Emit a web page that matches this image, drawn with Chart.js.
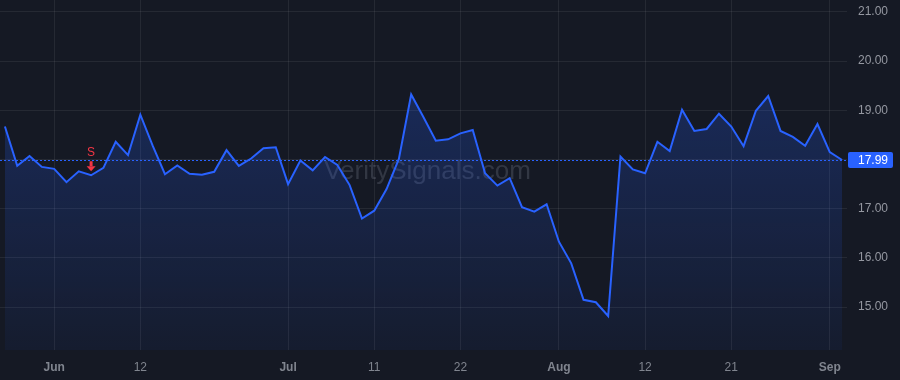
<!DOCTYPE html>
<html>
<head>
<meta charset="utf-8">
<script src="https://cdn.jsdelivr.net/npm/chart.js@4/dist/chart.umd.min.js"></script>
<style>
  html, body { margin: 0; padding: 0; background: #151924; }
  canvas { display: block; }
</style>
</head>
<body>
<canvas id="chart" width="900" height="380"></canvas>
<script>
// trading days, 2024-05-28 .. 2024-09-04
const dates = [
  "2024-05-28", "2024-05-29", "2024-05-30", "2024-05-31",
  "2024-06-03", "2024-06-04", "2024-06-05", "2024-06-06", "2024-06-07",
  "2024-06-10", "2024-06-11", "2024-06-12", "2024-06-13", "2024-06-14",
  "2024-06-17", "2024-06-18", "2024-06-20", "2024-06-21",
  "2024-06-24", "2024-06-25", "2024-06-26", "2024-06-27", "2024-06-28",
  "2024-07-01", "2024-07-02", "2024-07-03", "2024-07-05",
  "2024-07-08", "2024-07-09", "2024-07-10", "2024-07-11", "2024-07-12",
  "2024-07-15", "2024-07-16", "2024-07-17", "2024-07-18", "2024-07-19",
  "2024-07-22", "2024-07-23", "2024-07-24", "2024-07-25", "2024-07-26",
  "2024-07-29", "2024-07-30", "2024-07-31", "2024-08-01", "2024-08-02",
  "2024-08-05", "2024-08-06", "2024-08-07", "2024-08-08", "2024-08-09",
  "2024-08-12", "2024-08-13", "2024-08-14", "2024-08-15", "2024-08-16",
  "2024-08-19", "2024-08-20", "2024-08-21", "2024-08-22", "2024-08-23",
  "2024-08-26", "2024-08-27", "2024-08-28", "2024-08-29", "2024-08-30",
  "2024-09-03", "2024-09-04",
];

const closes = [
  18.67, 17.87, 18.07, 17.85,
  17.81, 17.54, 17.76, 17.68, 17.83,
  18.36, 18.09, 18.91, 18.28, 17.70,
  17.88, 17.71, 17.69, 17.75,
  18.19, 17.87, 18.02, 18.23, 18.25,
  17.50, 17.98, 17.78, 18.05,
  17.89, 17.48, 16.80, 16.96, 17.40,
  18.01, 19.32, 18.86, 18.38, 18.41,
  18.53, 18.60, 17.72, 17.47, 17.62,
  17.03, 16.94, 17.09, 16.33, 15.89,
  15.15, 15.10, 14.82, 18.06, 17.80,
  17.72, 18.36, 18.17, 19.01, 18.58,
  18.62, 18.93, 18.67, 18.27, 18.99,
  19.29, 18.58, 18.46, 18.28, 18.72,
  18.15, 17.99,
];

const tickDates = ["2024-06-03", "2024-06-12", "2024-07-01", "2024-07-11", "2024-07-22",
                   "2024-08-01", "2024-08-12", "2024-08-21", "2024-09-03"];
const tickText = ["Jun", "12", "Jul", "11", "22", "Aug", "12", "21", "Sep"];
const monthTicks = ["Jun", "Jul", "Aug", "Sep"];

const priceTicks = [15, 16, 17, 18, 19, 20, 21];
const lastPrice = 17.99;

const signalDates = ["2024-06-06"];
const signalText = ["S"];

const tickIdx = tickDates.map((d) => dates.indexOf(d));
const points = closes.map((v, i) => ({ x: i, y: v }));

const FONT = "'Liberation Sans', Arial, sans-serif";
const BLUE = "#2962ff";

const overlay = {
  id: "overlay",
  beforeDatasetsDraw(chart) {
    const { ctx, chartArea: a, scales } = chart;
    ctx.save();
    // watermark
    ctx.font = "26px " + FONT;
    ctx.fillStyle = "rgba(170, 176, 195, 0.2)";
    ctx.textAlign = "center";
    ctx.textBaseline = "middle";
    ctx.fillText("VeritySignals.com", (a.left + a.right) / 2 + 4, 172);

    // last price dotted line
    const py = Math.round(scales.y.getPixelForValue(lastPrice)) + 0.5;
    ctx.strokeStyle = BLUE;
    ctx.lineWidth = 1;
    ctx.setLineDash([2, 2]);
    ctx.beginPath();
    ctx.moveTo(a.left, py);
    ctx.lineTo(a.right, py);
    ctx.stroke();
    ctx.restore();
  },
  afterDatasetsDraw(chart) {
    const { ctx, chartArea: a, scales } = chart;
    ctx.save();
    // price label
    const py = scales.y.getPixelForValue(lastPrice);
    ctx.fillStyle = BLUE;
    ctx.beginPath();
    ctx.roundRect(a.right + 1, py - 8, 45, 16, 2);
    ctx.fill();
    ctx.fillStyle = "#ffffff";
    ctx.font = "12px " + FONT;
    ctx.textAlign = "left";
    ctx.textBaseline = "middle";
    ctx.fillText(lastPrice.toFixed(2), a.right + 11, py + 0.5);

    // signal markers
    signalDates.forEach((d, k) => {
      const i = dates.indexOf(d);
      const x = scales.x.getPixelForValue(i);
      const y = scales.y.getPixelForValue(closes[i]);
      ctx.fillStyle = "#f23645";
      ctx.font = "12px " + FONT;
      ctx.textAlign = "center";
      ctx.textBaseline = "middle";
      ctx.fillText(signalText[k], x, y - 23);
      // down arrow
      ctx.fillRect(x - 1.5, y - 14, 3, 5);
      ctx.beginPath();
      ctx.moveTo(x - 4.5, y - 9);
      ctx.lineTo(x + 4.5, y - 9);
      ctx.lineTo(x, y - 4);
      ctx.closePath();
      ctx.fill();
    });
    ctx.restore();
  },
};

new Chart(document.getElementById("chart"), {
  type: "line",
  data: {
    datasets: [
      {
        data: points,
        borderColor: BLUE,
        borderWidth: 2,
        pointRadius: 0,
        tension: 0,
        fill: "start",
        backgroundColor: (c) => {
          const area = c.chart.chartArea;
          if (!area) return "rgba(41,98,255,0.15)";
          const g = c.chart.ctx.createLinearGradient(0, area.top + 90, 0, area.bottom);
          g.addColorStop(0, "rgba(41,98,255,0.24)");
          g.addColorStop(1, "rgba(41,98,255,0.05)");
          return g;
        },
      },
    ],
  },
  options: {
    responsive: false,
    animation: false,
    layout: { padding: 0 },
    plugins: {
      legend: { display: false },
      tooltip: { enabled: false },
    },
    scales: {
      x: {
        type: "linear",
        position: "bottom",
        min: -0.4,
        max: closes.length - 0.6,
        afterBuildTicks: (s) => {
          s.ticks = tickIdx.map((v) => ({ value: v }));
        },
        afterFit: (s) => {
          s.height = 30;
          s.paddingLeft = 0;
          s.paddingRight = 0;
        },
        border: { display: false },
        grid: { color: "rgba(255,255,255,0.07)", drawTicks: false },
        ticks: {
          autoSkip: false,
          maxRotation: 0,
          padding: 10,
          color: "#80858f",
          font: (c) => ({
            family: FONT,
            size: 12,
            weight: c.tick && monthTicks.includes(tickText[tickIdx.indexOf(c.tick.value)]) ? "bold" : "normal",
          }),
          callback: (v) => tickText[tickIdx.indexOf(v)],
        },
      },
      y: {
        position: "right",
        min: 14.13,
        max: 21.24,
        afterBuildTicks: (s) => {
          s.ticks = priceTicks.map((v) => ({ value: v }));
        },
        afterFit: (s) => {
          s.width = 53;
          s.paddingTop = 0;
          s.paddingBottom = 0;
        },
        border: { display: false },
        grid: { color: "rgba(255,255,255,0.07)", drawTicks: false },
        ticks: {
          padding: 11,
          color: "#9598a1",
          font: { family: FONT, size: 12 },
          callback: (v) => (v === 18 ? "" : v.toFixed(2)),
        },
      },
    },
  },
  plugins: [overlay],
});
</script>
</body>
</html>
